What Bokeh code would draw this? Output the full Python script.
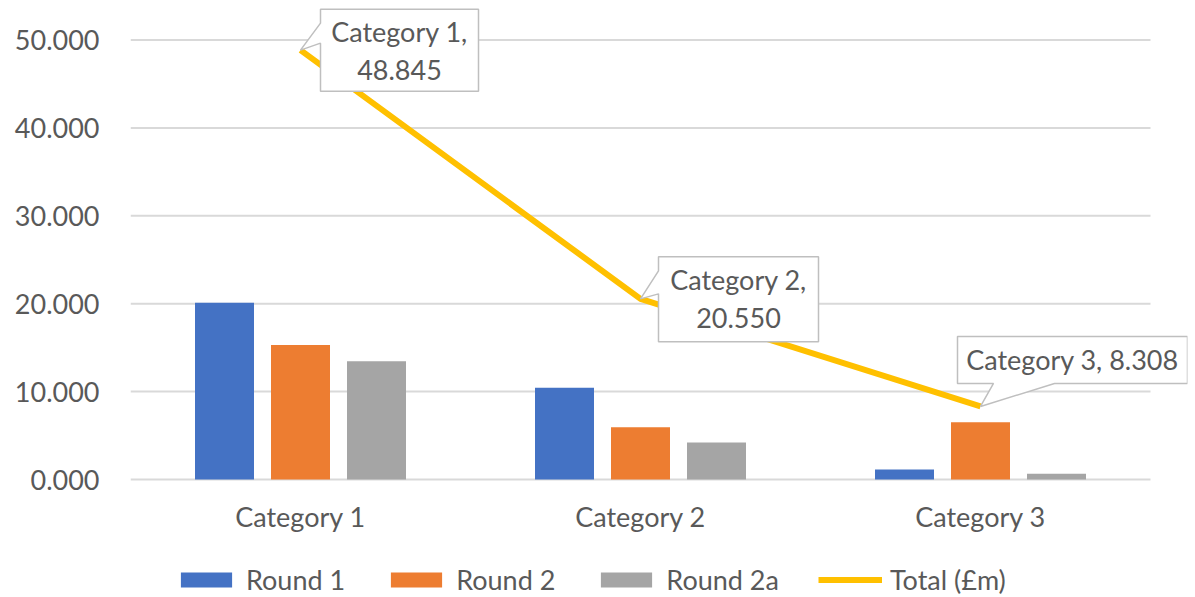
from bokeh.plotting import figure
from bokeh.models import FixedTicker, NumeralTickFormatter, Legend, LegendItem, Range1d
from bokeh.core.properties import value
from bokeh.embed import file_html
from bokeh.resources import INLINE

# ---- data ----
categories = ["Category 1", "Category 2", "Category 3"]
round1 = [20.10, 10.45, 1.15]
round2 = [15.30, 5.95, 6.50]
round2a = [13.45, 4.20, 0.66]
total = [48.845, 20.550, 8.308]
series_names = ["Round 1", "Round 2", "Round 2a", "Total (£m)"]
y_ticks = [0, 10, 20, 30, 40, 50]

# ---- layout constants ----
FONT = "Lato"
TEXT_COLOR = "#595959"
GRID_COLOR = "#D9D9D9"
W, H = 1195, 596
BORDER_L, BORDER_R = 130, 8
FRAME_W = W - BORDER_L - BORDER_R
FRAME_H = H
ZERO_PX = 479            # pixel row of the value 0 from the top
PX_PER_CAT = 340.0
PX_PER_UNIT = 8.79
x_end = FRAME_W / PX_PER_CAT
y_end = ZERO_PX / PX_PER_UNIT
y_start = -(FRAME_H - ZERO_PX) / PX_PER_UNIT

p = figure(frame_width=FRAME_W, frame_height=FRAME_H,
           x_range=Range1d(0, x_end), y_range=Range1d(y_start, y_end),
           output_backend="svg", toolbar_location=None,
           min_border_left=BORDER_L, min_border_right=BORDER_R,
           min_border_top=0, min_border_bottom=0)
p.outline_line_color = None
p.xgrid.visible = False
p.ygrid.visible = False
p.xaxis.visible = False
p.background_fill_color = "white"
p.border_fill_color = "white"

centers = [i + 0.5 for i in range(len(categories))]

# gridlines across the category span
p.segment(x0=[0] * len(y_ticks), y0=y_ticks, x1=[len(categories)] * len(y_ticks), y1=y_ticks,
          line_color=GRID_COLOR, line_width=2)

bar_w = 59 / PX_PER_CAT
off = 76 / PX_PER_CAT
colors = ["#4472C4", "#ED7D31", "#A5A5A5"]
renderers = []
for k, (vals, col) in enumerate(zip([round1, round2, round2a], colors)):
    xs = [c + (k - 1) * off for c in centers]
    r = p.vbar(x=xs, top=vals, width=bar_w, fill_color=col, line_color=None)
    renderers.append(r)

line_r = p.line(x=centers, y=total, line_color="#FFC000", line_width=6)
renderers.append(line_r)

# category labels under the zero line
p.text(x=centers, y=[-37 / PX_PER_UNIT] * len(centers), text=categories,
       text_align="center", text_baseline="middle",
       text_font=value(FONT), text_font_size="27px", text_color=TEXT_COLOR)

# ---- callouts (offsets in px relative to the data point: dx right, dy down) ----
callout_shapes = [
    [(20, -41), (178, -41), (178, 41), (20, 41), (20, -7), (0, 0), (20, -27)],
    [(18, -42), (178, -42), (178, 43), (18, 43), (18, -5), (0, 0), (18, -28)],
    [(-23, -70), (207, -70), (207, -23), (74, -23), (0, 0), (13, -23), (-23, -23)],
]
text_offsets = [(99, 0), (98, 0), (92, -46.5)]
label_texts = [f"{categories[0]},\n{total[0]:.3f}",
               f"{categories[1]},\n{total[1]:.3f}",
               f"{categories[2]}, {total[2]:.3f}"]

pxs, pys, tx, ty = [], [], [], []
for cx, cy, shape, (tdx, tdy) in zip(centers, total, callout_shapes, text_offsets):
    pxs.append([cx + dx / PX_PER_CAT for dx, dy in shape])
    pys.append([cy - dy / PX_PER_UNIT for dx, dy in shape])
    tx.append(cx + tdx / PX_PER_CAT)
    ty.append(cy - tdy / PX_PER_UNIT)

p.patches(xs=pxs, ys=pys, fill_color="white", line_color="#BFBFBF", line_width=1.5)
p.text(x=tx, y=ty, text=label_texts, text_align="center", text_baseline="middle",
       text_font=value(FONT), text_font_size="27px", text_color=TEXT_COLOR,
       text_line_height=1.15)

# ---- y axis ----
p.yaxis.ticker = FixedTicker(ticks=y_ticks)
p.yaxis.formatter = NumeralTickFormatter(format="0.000")
p.yaxis.axis_line_color = None
p.yaxis.major_tick_line_color = None
p.yaxis.minor_tick_line_color = None
p.yaxis.major_label_standoff = 25
p.yaxis.major_label_text_font = FONT
p.yaxis.major_label_text_font_size = "27px"
p.yaxis.major_label_text_color = TEXT_COLOR

# ---- legend (inside the frame, at the bottom) ----
legend = Legend(items=[LegendItem(label=n, renderers=[r]) for n, r in zip(series_names, renderers)],
                orientation="horizontal", location=(44, 0))
legend.label_text_font = FONT
legend.label_text_font_size = "27px"
legend.label_text_color = TEXT_COLOR
legend.glyph_width = 64
legend.glyph_height = 19
legend.label_standoff = 8
legend.spacing = 39
legend.padding = 0
legend.margin = 0
legend.border_line_color = None
legend.background_fill_alpha = 0
p.add_layout(legend)

open("out.html", "w").write(file_html(p, INLINE))
